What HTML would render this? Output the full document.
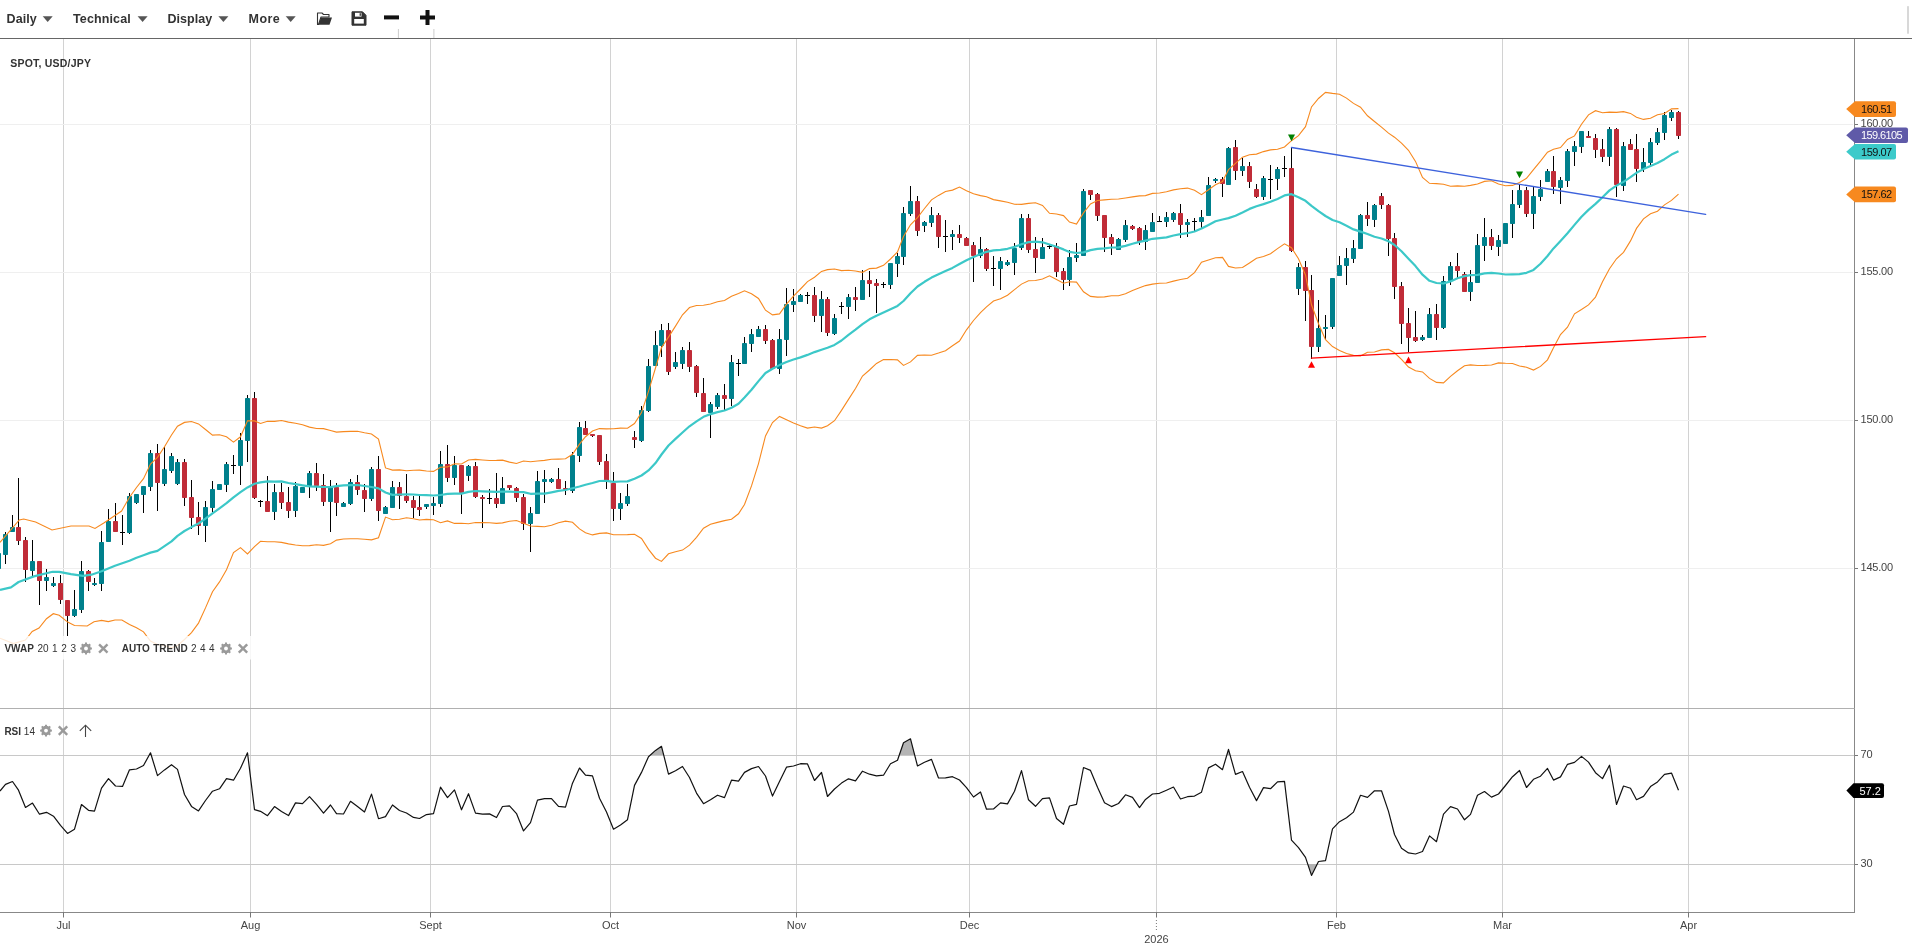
<!DOCTYPE html>
<html><head><meta charset="utf-8"><style>
html,body{margin:0;padding:0;background:#fff;width:1912px;height:945px;overflow:hidden}
svg{position:absolute;left:0;top:0;font-family:"Liberation Sans", sans-serif;will-change:transform}
</style></head><body>
<svg width="1912" height="945" viewBox="0 0 1912 945">
<line x1="63.5" y1="39" x2="63.5" y2="912" stroke="#d2d2d2" stroke-width="1"/>
<line x1="250.5" y1="39" x2="250.5" y2="912" stroke="#d2d2d2" stroke-width="1"/>
<line x1="430.5" y1="39" x2="430.5" y2="912" stroke="#d2d2d2" stroke-width="1"/>
<line x1="610.5" y1="39" x2="610.5" y2="912" stroke="#d2d2d2" stroke-width="1"/>
<line x1="796.5" y1="39" x2="796.5" y2="912" stroke="#d2d2d2" stroke-width="1"/>
<line x1="969.5" y1="39" x2="969.5" y2="912" stroke="#d2d2d2" stroke-width="1"/>
<line x1="1156.5" y1="39" x2="1156.5" y2="912" stroke="#d2d2d2" stroke-width="1"/>
<line x1="1336.5" y1="39" x2="1336.5" y2="912" stroke="#d2d2d2" stroke-width="1"/>
<line x1="1502.5" y1="39" x2="1502.5" y2="912" stroke="#d2d2d2" stroke-width="1"/>
<line x1="1688.5" y1="39" x2="1688.5" y2="912" stroke="#d2d2d2" stroke-width="1"/>
<line x1="0" y1="124.5" x2="1853" y2="124.5" stroke="#efefef" stroke-width="1"/>
<line x1="0" y1="272.5" x2="1853" y2="272.5" stroke="#efefef" stroke-width="1"/>
<line x1="0" y1="420.5" x2="1853" y2="420.5" stroke="#efefef" stroke-width="1"/>
<line x1="0" y1="568.5" x2="1853" y2="568.5" stroke="#efefef" stroke-width="1"/>
<line x1="0" y1="755.5" x2="1854" y2="755.5" stroke="#c8c8c8" stroke-width="1"/>
<line x1="0" y1="864.5" x2="1854" y2="864.5" stroke="#c8c8c8" stroke-width="1"/>
<line x1="-1.50" y1="553" x2="-1.50" y2="569" stroke="#000" stroke-width="1"/>
<line x1="5.50" y1="532" x2="5.50" y2="564" stroke="#000" stroke-width="1"/>
<line x1="12.50" y1="515" x2="12.50" y2="532" stroke="#000" stroke-width="1"/>
<line x1="18.50" y1="478" x2="18.50" y2="545" stroke="#000" stroke-width="1"/>
<line x1="25.50" y1="537" x2="25.50" y2="582" stroke="#000" stroke-width="1"/>
<line x1="32.50" y1="540" x2="32.50" y2="578" stroke="#000" stroke-width="1"/>
<line x1="39.50" y1="561" x2="39.50" y2="605" stroke="#000" stroke-width="1"/>
<line x1="46.50" y1="569" x2="46.50" y2="591" stroke="#000" stroke-width="1"/>
<line x1="53.50" y1="577" x2="53.50" y2="587" stroke="#000" stroke-width="1"/>
<line x1="60.50" y1="575" x2="60.50" y2="604" stroke="#000" stroke-width="1"/>
<line x1="67.50" y1="600" x2="67.50" y2="636" stroke="#000" stroke-width="1"/>
<line x1="74.50" y1="590" x2="74.50" y2="617" stroke="#000" stroke-width="1"/>
<line x1="81.50" y1="561" x2="81.50" y2="613" stroke="#000" stroke-width="1"/>
<line x1="88.50" y1="570" x2="88.50" y2="591" stroke="#000" stroke-width="1"/>
<line x1="94.50" y1="578" x2="94.50" y2="586" stroke="#000" stroke-width="1"/>
<line x1="101.50" y1="531" x2="101.50" y2="591" stroke="#000" stroke-width="1"/>
<line x1="108.50" y1="509" x2="108.50" y2="542" stroke="#000" stroke-width="1"/>
<line x1="115.50" y1="503" x2="115.50" y2="532" stroke="#000" stroke-width="1"/>
<line x1="122.50" y1="515" x2="122.50" y2="545" stroke="#000" stroke-width="1"/>
<line x1="129.50" y1="493" x2="129.50" y2="534" stroke="#000" stroke-width="1"/>
<line x1="136.50" y1="494" x2="136.50" y2="504" stroke="#000" stroke-width="1"/>
<line x1="143.50" y1="486" x2="143.50" y2="513" stroke="#000" stroke-width="1"/>
<line x1="150.50" y1="450" x2="150.50" y2="491" stroke="#000" stroke-width="1"/>
<line x1="157.50" y1="444" x2="157.50" y2="511" stroke="#000" stroke-width="1"/>
<line x1="164.50" y1="447" x2="164.50" y2="486" stroke="#000" stroke-width="1"/>
<line x1="171.50" y1="453" x2="171.50" y2="473" stroke="#000" stroke-width="1"/>
<line x1="177.50" y1="459" x2="177.50" y2="485" stroke="#000" stroke-width="1"/>
<line x1="184.50" y1="459" x2="184.50" y2="506" stroke="#000" stroke-width="1"/>
<line x1="191.50" y1="480" x2="191.50" y2="529" stroke="#000" stroke-width="1"/>
<line x1="198.50" y1="502" x2="198.50" y2="535" stroke="#000" stroke-width="1"/>
<line x1="205.50" y1="501" x2="205.50" y2="542" stroke="#000" stroke-width="1"/>
<line x1="212.50" y1="481" x2="212.50" y2="512" stroke="#000" stroke-width="1"/>
<line x1="219.50" y1="484" x2="219.50" y2="490" stroke="#000" stroke-width="1"/>
<line x1="226.50" y1="462" x2="226.50" y2="492" stroke="#000" stroke-width="1"/>
<line x1="233.50" y1="455" x2="233.50" y2="474" stroke="#000" stroke-width="1"/>
<line x1="240.50" y1="433" x2="240.50" y2="485" stroke="#000" stroke-width="1"/>
<line x1="247.50" y1="395" x2="247.50" y2="462" stroke="#000" stroke-width="1"/>
<line x1="254.50" y1="392" x2="254.50" y2="499" stroke="#000" stroke-width="1"/>
<line x1="260.50" y1="500" x2="260.50" y2="507" stroke="#000" stroke-width="1"/>
<line x1="267.50" y1="476" x2="267.50" y2="512" stroke="#000" stroke-width="1"/>
<line x1="274.50" y1="484" x2="274.50" y2="520" stroke="#000" stroke-width="1"/>
<line x1="281.50" y1="483" x2="281.50" y2="509" stroke="#000" stroke-width="1"/>
<line x1="288.50" y1="487" x2="288.50" y2="518" stroke="#000" stroke-width="1"/>
<line x1="295.50" y1="482" x2="295.50" y2="517" stroke="#000" stroke-width="1"/>
<line x1="302.50" y1="487" x2="302.50" y2="493" stroke="#000" stroke-width="1"/>
<line x1="309.50" y1="471" x2="309.50" y2="498" stroke="#000" stroke-width="1"/>
<line x1="316.50" y1="463" x2="316.50" y2="491" stroke="#000" stroke-width="1"/>
<line x1="323.50" y1="474" x2="323.50" y2="506" stroke="#000" stroke-width="1"/>
<line x1="330.50" y1="480" x2="330.50" y2="532" stroke="#000" stroke-width="1"/>
<line x1="336.50" y1="483" x2="336.50" y2="516" stroke="#000" stroke-width="1"/>
<line x1="343.50" y1="502" x2="343.50" y2="507" stroke="#000" stroke-width="1"/>
<line x1="350.50" y1="479" x2="350.50" y2="505" stroke="#000" stroke-width="1"/>
<line x1="357.50" y1="475" x2="357.50" y2="495" stroke="#000" stroke-width="1"/>
<line x1="364.50" y1="484" x2="364.50" y2="512" stroke="#000" stroke-width="1"/>
<line x1="371.50" y1="467" x2="371.50" y2="501" stroke="#000" stroke-width="1"/>
<line x1="378.50" y1="456" x2="378.50" y2="521" stroke="#000" stroke-width="1"/>
<line x1="385.50" y1="506" x2="385.50" y2="514" stroke="#000" stroke-width="1"/>
<line x1="392.50" y1="481" x2="392.50" y2="508" stroke="#000" stroke-width="1"/>
<line x1="399.50" y1="482" x2="399.50" y2="509" stroke="#000" stroke-width="1"/>
<line x1="406.50" y1="474" x2="406.50" y2="503" stroke="#000" stroke-width="1"/>
<line x1="413.50" y1="496" x2="413.50" y2="518" stroke="#000" stroke-width="1"/>
<line x1="419.50" y1="496" x2="419.50" y2="516" stroke="#000" stroke-width="1"/>
<line x1="426.50" y1="504" x2="426.50" y2="509" stroke="#000" stroke-width="1"/>
<line x1="433.50" y1="497" x2="433.50" y2="515" stroke="#000" stroke-width="1"/>
<line x1="440.50" y1="451" x2="440.50" y2="507" stroke="#000" stroke-width="1"/>
<line x1="447.50" y1="445" x2="447.50" y2="482" stroke="#000" stroke-width="1"/>
<line x1="454.50" y1="456" x2="454.50" y2="485" stroke="#000" stroke-width="1"/>
<line x1="461.50" y1="465" x2="461.50" y2="514" stroke="#000" stroke-width="1"/>
<line x1="468.50" y1="465" x2="468.50" y2="481" stroke="#000" stroke-width="1"/>
<line x1="475.50" y1="462" x2="475.50" y2="498" stroke="#000" stroke-width="1"/>
<line x1="482.50" y1="495" x2="482.50" y2="528" stroke="#000" stroke-width="1"/>
<line x1="489.50" y1="489" x2="489.50" y2="504" stroke="#000" stroke-width="1"/>
<line x1="496.50" y1="473" x2="496.50" y2="508" stroke="#000" stroke-width="1"/>
<line x1="502.50" y1="477" x2="502.50" y2="504" stroke="#000" stroke-width="1"/>
<line x1="509.50" y1="485" x2="509.50" y2="490" stroke="#000" stroke-width="1"/>
<line x1="516.50" y1="487" x2="516.50" y2="502" stroke="#000" stroke-width="1"/>
<line x1="523.50" y1="494" x2="523.50" y2="530" stroke="#000" stroke-width="1"/>
<line x1="530.50" y1="507" x2="530.50" y2="552" stroke="#000" stroke-width="1"/>
<line x1="537.50" y1="471" x2="537.50" y2="514" stroke="#000" stroke-width="1"/>
<line x1="544.50" y1="470" x2="544.50" y2="503" stroke="#000" stroke-width="1"/>
<line x1="551.50" y1="478" x2="551.50" y2="483" stroke="#000" stroke-width="1"/>
<line x1="558.50" y1="468" x2="558.50" y2="489" stroke="#000" stroke-width="1"/>
<line x1="565.50" y1="481" x2="565.50" y2="495" stroke="#000" stroke-width="1"/>
<line x1="572.50" y1="452" x2="572.50" y2="493" stroke="#000" stroke-width="1"/>
<line x1="579.50" y1="422" x2="579.50" y2="462" stroke="#000" stroke-width="1"/>
<line x1="585.50" y1="421" x2="585.50" y2="435" stroke="#000" stroke-width="1"/>
<line x1="592.50" y1="434" x2="592.50" y2="437" stroke="#000" stroke-width="1"/>
<line x1="599.50" y1="435" x2="599.50" y2="465" stroke="#000" stroke-width="1"/>
<line x1="606.50" y1="454" x2="606.50" y2="489" stroke="#000" stroke-width="1"/>
<line x1="613.50" y1="472" x2="613.50" y2="521" stroke="#000" stroke-width="1"/>
<line x1="620.50" y1="493" x2="620.50" y2="520" stroke="#000" stroke-width="1"/>
<line x1="627.50" y1="484" x2="627.50" y2="506" stroke="#000" stroke-width="1"/>
<line x1="634.50" y1="431" x2="634.50" y2="448" stroke="#000" stroke-width="1"/>
<line x1="641.50" y1="406" x2="641.50" y2="442" stroke="#000" stroke-width="1"/>
<line x1="648.50" y1="359" x2="648.50" y2="412" stroke="#000" stroke-width="1"/>
<line x1="655.50" y1="331" x2="655.50" y2="366" stroke="#000" stroke-width="1"/>
<line x1="661.50" y1="324" x2="661.50" y2="357" stroke="#000" stroke-width="1"/>
<line x1="668.50" y1="323" x2="668.50" y2="375" stroke="#000" stroke-width="1"/>
<line x1="675.50" y1="352" x2="675.50" y2="369" stroke="#000" stroke-width="1"/>
<line x1="682.50" y1="347" x2="682.50" y2="369" stroke="#000" stroke-width="1"/>
<line x1="689.50" y1="342" x2="689.50" y2="372" stroke="#000" stroke-width="1"/>
<line x1="696.50" y1="365" x2="696.50" y2="397" stroke="#000" stroke-width="1"/>
<line x1="703.50" y1="378" x2="703.50" y2="412" stroke="#000" stroke-width="1"/>
<line x1="710.50" y1="402" x2="710.50" y2="438" stroke="#000" stroke-width="1"/>
<line x1="717.50" y1="393" x2="717.50" y2="409" stroke="#000" stroke-width="1"/>
<line x1="724.50" y1="384" x2="724.50" y2="410" stroke="#000" stroke-width="1"/>
<line x1="731.50" y1="355" x2="731.50" y2="406" stroke="#000" stroke-width="1"/>
<line x1="738.50" y1="359" x2="738.50" y2="376" stroke="#000" stroke-width="1"/>
<line x1="744.50" y1="337" x2="744.50" y2="364" stroke="#000" stroke-width="1"/>
<line x1="751.50" y1="329" x2="751.50" y2="352" stroke="#000" stroke-width="1"/>
<line x1="758.50" y1="326" x2="758.50" y2="337" stroke="#000" stroke-width="1"/>
<line x1="765.50" y1="325" x2="765.50" y2="344" stroke="#000" stroke-width="1"/>
<line x1="772.50" y1="339" x2="772.50" y2="369" stroke="#000" stroke-width="1"/>
<line x1="779.50" y1="329" x2="779.50" y2="374" stroke="#000" stroke-width="1"/>
<line x1="786.50" y1="288" x2="786.50" y2="356" stroke="#000" stroke-width="1"/>
<line x1="793.50" y1="289" x2="793.50" y2="312" stroke="#000" stroke-width="1"/>
<line x1="800.50" y1="294" x2="800.50" y2="302" stroke="#000" stroke-width="1"/>
<line x1="807.50" y1="292" x2="807.50" y2="304" stroke="#000" stroke-width="1"/>
<line x1="814.50" y1="287" x2="814.50" y2="322" stroke="#000" stroke-width="1"/>
<line x1="821.50" y1="291" x2="821.50" y2="332" stroke="#000" stroke-width="1"/>
<line x1="827.50" y1="297" x2="827.50" y2="336" stroke="#000" stroke-width="1"/>
<line x1="834.50" y1="314" x2="834.50" y2="335" stroke="#000" stroke-width="1"/>
<line x1="841.50" y1="302" x2="841.50" y2="314" stroke="#000" stroke-width="1"/>
<line x1="848.50" y1="294" x2="848.50" y2="319" stroke="#000" stroke-width="1"/>
<line x1="855.50" y1="287" x2="855.50" y2="311" stroke="#000" stroke-width="1"/>
<line x1="862.50" y1="270" x2="862.50" y2="300" stroke="#000" stroke-width="1"/>
<line x1="869.50" y1="271" x2="869.50" y2="297" stroke="#000" stroke-width="1"/>
<line x1="876.50" y1="279" x2="876.50" y2="313" stroke="#000" stroke-width="1"/>
<line x1="883.50" y1="282" x2="883.50" y2="288" stroke="#000" stroke-width="1"/>
<line x1="890.50" y1="263" x2="890.50" y2="289" stroke="#000" stroke-width="1"/>
<line x1="897.50" y1="253" x2="897.50" y2="277" stroke="#000" stroke-width="1"/>
<line x1="903.50" y1="207" x2="903.50" y2="265" stroke="#000" stroke-width="1"/>
<line x1="910.50" y1="186" x2="910.50" y2="216" stroke="#000" stroke-width="1"/>
<line x1="917.50" y1="196" x2="917.50" y2="236" stroke="#000" stroke-width="1"/>
<line x1="924.50" y1="221" x2="924.50" y2="232" stroke="#000" stroke-width="1"/>
<line x1="931.50" y1="207" x2="931.50" y2="227" stroke="#000" stroke-width="1"/>
<line x1="938.50" y1="213" x2="938.50" y2="248" stroke="#000" stroke-width="1"/>
<line x1="945.50" y1="220" x2="945.50" y2="252" stroke="#000" stroke-width="1"/>
<line x1="952.50" y1="230" x2="952.50" y2="250" stroke="#000" stroke-width="1"/>
<line x1="959.50" y1="225" x2="959.50" y2="243" stroke="#000" stroke-width="1"/>
<line x1="966.50" y1="237" x2="966.50" y2="246" stroke="#000" stroke-width="1"/>
<line x1="973.50" y1="242" x2="973.50" y2="282" stroke="#000" stroke-width="1"/>
<line x1="980.50" y1="237" x2="980.50" y2="258" stroke="#000" stroke-width="1"/>
<line x1="986.50" y1="248" x2="986.50" y2="271" stroke="#000" stroke-width="1"/>
<line x1="993.50" y1="256" x2="993.50" y2="286" stroke="#000" stroke-width="1"/>
<line x1="1000.50" y1="257" x2="1000.50" y2="290" stroke="#000" stroke-width="1"/>
<line x1="1007.50" y1="260" x2="1007.50" y2="266" stroke="#000" stroke-width="1"/>
<line x1="1014.50" y1="243" x2="1014.50" y2="275" stroke="#000" stroke-width="1"/>
<line x1="1021.50" y1="214" x2="1021.50" y2="250" stroke="#000" stroke-width="1"/>
<line x1="1028.50" y1="214" x2="1028.50" y2="253" stroke="#000" stroke-width="1"/>
<line x1="1035.50" y1="237" x2="1035.50" y2="273" stroke="#000" stroke-width="1"/>
<line x1="1042.50" y1="238" x2="1042.50" y2="259" stroke="#000" stroke-width="1"/>
<line x1="1049.50" y1="244" x2="1049.50" y2="249" stroke="#000" stroke-width="1"/>
<line x1="1056.50" y1="243" x2="1056.50" y2="277" stroke="#000" stroke-width="1"/>
<line x1="1063.50" y1="268" x2="1063.50" y2="290" stroke="#000" stroke-width="1"/>
<line x1="1069.50" y1="250" x2="1069.50" y2="286" stroke="#000" stroke-width="1"/>
<line x1="1076.50" y1="243" x2="1076.50" y2="262" stroke="#000" stroke-width="1"/>
<line x1="1083.50" y1="189" x2="1083.50" y2="256" stroke="#000" stroke-width="1"/>
<line x1="1090.50" y1="190" x2="1090.50" y2="200" stroke="#000" stroke-width="1"/>
<line x1="1097.50" y1="193" x2="1097.50" y2="221" stroke="#000" stroke-width="1"/>
<line x1="1104.50" y1="215" x2="1104.50" y2="252" stroke="#000" stroke-width="1"/>
<line x1="1111.50" y1="234" x2="1111.50" y2="255" stroke="#000" stroke-width="1"/>
<line x1="1118.50" y1="238" x2="1118.50" y2="250" stroke="#000" stroke-width="1"/>
<line x1="1125.50" y1="220" x2="1125.50" y2="242" stroke="#000" stroke-width="1"/>
<line x1="1132.50" y1="225" x2="1132.50" y2="230" stroke="#000" stroke-width="1"/>
<line x1="1139.50" y1="227" x2="1139.50" y2="245" stroke="#000" stroke-width="1"/>
<line x1="1145.50" y1="225" x2="1145.50" y2="250" stroke="#000" stroke-width="1"/>
<line x1="1152.50" y1="213" x2="1152.50" y2="232" stroke="#000" stroke-width="1"/>
<line x1="1159.50" y1="216" x2="1159.50" y2="221" stroke="#000" stroke-width="1"/>
<line x1="1166.50" y1="212" x2="1166.50" y2="227" stroke="#000" stroke-width="1"/>
<line x1="1173.50" y1="212" x2="1173.50" y2="222" stroke="#000" stroke-width="1"/>
<line x1="1180.50" y1="204" x2="1180.50" y2="238" stroke="#000" stroke-width="1"/>
<line x1="1187.50" y1="219" x2="1187.50" y2="237" stroke="#000" stroke-width="1"/>
<line x1="1194.50" y1="218" x2="1194.50" y2="231" stroke="#000" stroke-width="1"/>
<line x1="1201.50" y1="210" x2="1201.50" y2="228" stroke="#000" stroke-width="1"/>
<line x1="1208.50" y1="177" x2="1208.50" y2="216" stroke="#000" stroke-width="1"/>
<line x1="1215.50" y1="178" x2="1215.50" y2="183" stroke="#000" stroke-width="1"/>
<line x1="1222.50" y1="177" x2="1222.50" y2="197" stroke="#000" stroke-width="1"/>
<line x1="1228.50" y1="147" x2="1228.50" y2="185" stroke="#000" stroke-width="1"/>
<line x1="1235.50" y1="140" x2="1235.50" y2="180" stroke="#000" stroke-width="1"/>
<line x1="1242.50" y1="158" x2="1242.50" y2="176" stroke="#000" stroke-width="1"/>
<line x1="1249.50" y1="162" x2="1249.50" y2="188" stroke="#000" stroke-width="1"/>
<line x1="1256.50" y1="184" x2="1256.50" y2="198" stroke="#000" stroke-width="1"/>
<line x1="1263.50" y1="176" x2="1263.50" y2="200" stroke="#000" stroke-width="1"/>
<line x1="1270.50" y1="165" x2="1270.50" y2="199" stroke="#000" stroke-width="1"/>
<line x1="1277.50" y1="167" x2="1277.50" y2="190" stroke="#000" stroke-width="1"/>
<line x1="1284.50" y1="156" x2="1284.50" y2="177" stroke="#000" stroke-width="1"/>
<line x1="1291.50" y1="147" x2="1291.50" y2="252" stroke="#000" stroke-width="1"/>
<line x1="1298.50" y1="263" x2="1298.50" y2="295" stroke="#000" stroke-width="1"/>
<line x1="1305.50" y1="261" x2="1305.50" y2="321" stroke="#000" stroke-width="1"/>
<line x1="1311.50" y1="275" x2="1311.50" y2="359" stroke="#000" stroke-width="1"/>
<line x1="1318.50" y1="300" x2="1318.50" y2="352" stroke="#000" stroke-width="1"/>
<line x1="1325.50" y1="315" x2="1325.50" y2="340" stroke="#000" stroke-width="1"/>
<line x1="1332.50" y1="278" x2="1332.50" y2="329" stroke="#000" stroke-width="1"/>
<line x1="1339.50" y1="256" x2="1339.50" y2="276" stroke="#000" stroke-width="1"/>
<line x1="1346.50" y1="248" x2="1346.50" y2="285" stroke="#000" stroke-width="1"/>
<line x1="1353.50" y1="240" x2="1353.50" y2="263" stroke="#000" stroke-width="1"/>
<line x1="1360.50" y1="214" x2="1360.50" y2="249" stroke="#000" stroke-width="1"/>
<line x1="1367.50" y1="202" x2="1367.50" y2="226" stroke="#000" stroke-width="1"/>
<line x1="1374.50" y1="204" x2="1374.50" y2="227" stroke="#000" stroke-width="1"/>
<line x1="1381.50" y1="193" x2="1381.50" y2="209" stroke="#000" stroke-width="1"/>
<line x1="1388.50" y1="204" x2="1388.50" y2="256" stroke="#000" stroke-width="1"/>
<line x1="1394.50" y1="233" x2="1394.50" y2="299" stroke="#000" stroke-width="1"/>
<line x1="1401.50" y1="282" x2="1401.50" y2="344" stroke="#000" stroke-width="1"/>
<line x1="1408.50" y1="308" x2="1408.50" y2="352" stroke="#000" stroke-width="1"/>
<line x1="1415.50" y1="311" x2="1415.50" y2="342" stroke="#000" stroke-width="1"/>
<line x1="1422.50" y1="335" x2="1422.50" y2="341" stroke="#000" stroke-width="1"/>
<line x1="1429.50" y1="308" x2="1429.50" y2="338" stroke="#000" stroke-width="1"/>
<line x1="1436.50" y1="304" x2="1436.50" y2="340" stroke="#000" stroke-width="1"/>
<line x1="1443.50" y1="276" x2="1443.50" y2="329" stroke="#000" stroke-width="1"/>
<line x1="1450.50" y1="262" x2="1450.50" y2="285" stroke="#000" stroke-width="1"/>
<line x1="1457.50" y1="253" x2="1457.50" y2="278" stroke="#000" stroke-width="1"/>
<line x1="1464.50" y1="272" x2="1464.50" y2="292" stroke="#000" stroke-width="1"/>
<line x1="1470.50" y1="270" x2="1470.50" y2="301" stroke="#000" stroke-width="1"/>
<line x1="1477.50" y1="234" x2="1477.50" y2="283" stroke="#000" stroke-width="1"/>
<line x1="1484.50" y1="218" x2="1484.50" y2="261" stroke="#000" stroke-width="1"/>
<line x1="1491.50" y1="229" x2="1491.50" y2="250" stroke="#000" stroke-width="1"/>
<line x1="1498.50" y1="235" x2="1498.50" y2="256" stroke="#000" stroke-width="1"/>
<line x1="1505.50" y1="223" x2="1505.50" y2="244" stroke="#000" stroke-width="1"/>
<line x1="1512.50" y1="190" x2="1512.50" y2="238" stroke="#000" stroke-width="1"/>
<line x1="1519.50" y1="184" x2="1519.50" y2="208" stroke="#000" stroke-width="1"/>
<line x1="1526.50" y1="187" x2="1526.50" y2="217" stroke="#000" stroke-width="1"/>
<line x1="1533.50" y1="187" x2="1533.50" y2="229" stroke="#000" stroke-width="1"/>
<line x1="1540.50" y1="180" x2="1540.50" y2="201" stroke="#000" stroke-width="1"/>
<line x1="1547.50" y1="169" x2="1547.50" y2="182" stroke="#000" stroke-width="1"/>
<line x1="1553.50" y1="156" x2="1553.50" y2="194" stroke="#000" stroke-width="1"/>
<line x1="1560.50" y1="177" x2="1560.50" y2="204" stroke="#000" stroke-width="1"/>
<line x1="1567.50" y1="149" x2="1567.50" y2="187" stroke="#000" stroke-width="1"/>
<line x1="1574.50" y1="141" x2="1574.50" y2="166" stroke="#000" stroke-width="1"/>
<line x1="1581.50" y1="131" x2="1581.50" y2="153" stroke="#000" stroke-width="1"/>
<line x1="1588.50" y1="131" x2="1588.50" y2="138" stroke="#000" stroke-width="1"/>
<line x1="1595.50" y1="134" x2="1595.50" y2="158" stroke="#000" stroke-width="1"/>
<line x1="1602.50" y1="139" x2="1602.50" y2="162" stroke="#000" stroke-width="1"/>
<line x1="1609.50" y1="127" x2="1609.50" y2="166" stroke="#000" stroke-width="1"/>
<line x1="1616.50" y1="128" x2="1616.50" y2="197" stroke="#000" stroke-width="1"/>
<line x1="1623.50" y1="142" x2="1623.50" y2="191" stroke="#000" stroke-width="1"/>
<line x1="1630.50" y1="139" x2="1630.50" y2="150" stroke="#000" stroke-width="1"/>
<line x1="1636.50" y1="134" x2="1636.50" y2="182" stroke="#000" stroke-width="1"/>
<line x1="1643.50" y1="148" x2="1643.50" y2="172" stroke="#000" stroke-width="1"/>
<line x1="1650.50" y1="138" x2="1650.50" y2="165" stroke="#000" stroke-width="1"/>
<line x1="1657.50" y1="128" x2="1657.50" y2="145" stroke="#000" stroke-width="1"/>
<line x1="1664.50" y1="112" x2="1664.50" y2="140" stroke="#000" stroke-width="1"/>
<line x1="1671.50" y1="110" x2="1671.50" y2="121" stroke="#000" stroke-width="1"/>
<line x1="1678.50" y1="111" x2="1678.50" y2="139" stroke="#000" stroke-width="1"/>
<rect x="-4.00" y="553.0" width="5" height="16.0" rx="0.7" fill="#00808c"/>
<rect x="3.00" y="534.0" width="5" height="21.0" rx="0.7" fill="#00808c"/>
<rect x="10.00" y="527.0" width="5" height="5.0" rx="0.7" fill="#00808c"/>
<rect x="16.00" y="527.0" width="5" height="14.0" rx="0.7" fill="#c02c38"/>
<rect x="23.00" y="540.0" width="5" height="30.0" rx="0.7" fill="#c02c38"/>
<rect x="30.00" y="561.0" width="5" height="10.0" rx="0.7" fill="#00808c"/>
<rect x="37.00" y="561.0" width="5" height="20.0" rx="0.7" fill="#c02c38"/>
<rect x="44.00" y="577.0" width="5" height="4.0" rx="0.7" fill="#00808c"/>
<rect x="51.00" y="583.0" width="5" height="3.0" rx="0.7" fill="#00808c"/>
<rect x="58.00" y="583.0" width="5" height="17.0" rx="0.7" fill="#c02c38"/>
<rect x="65.00" y="600.0" width="5" height="16.0" rx="0.7" fill="#c02c38"/>
<rect x="72.00" y="609.0" width="5" height="7.0" rx="0.7" fill="#00808c"/>
<rect x="79.00" y="571.0" width="5" height="39.0" rx="0.7" fill="#00808c"/>
<rect x="86.00" y="571.0" width="5" height="11.0" rx="0.7" fill="#c02c38"/>
<rect x="92.00" y="583.0" width="5" height="2.0" rx="0.7" fill="#00808c"/>
<rect x="99.00" y="542.0" width="5" height="42.0" rx="0.7" fill="#00808c"/>
<rect x="106.00" y="521.0" width="5" height="21.0" rx="0.7" fill="#00808c"/>
<rect x="113.00" y="521.0" width="5" height="11.0" rx="0.7" fill="#c02c38"/>
<rect x="120.00" y="532" width="5" height="1" fill="#000"/>
<rect x="127.00" y="496.0" width="5" height="37.0" rx="0.7" fill="#00808c"/>
<rect x="134.00" y="494.0" width="5" height="9.0" rx="0.7" fill="#00808c"/>
<rect x="141.00" y="486.0" width="5" height="9.0" rx="0.7" fill="#00808c"/>
<rect x="148.00" y="453.0" width="5" height="34.0" rx="0.7" fill="#00808c"/>
<rect x="155.00" y="453.0" width="5" height="30.0" rx="0.7" fill="#c02c38"/>
<rect x="162.00" y="469.0" width="5" height="15.0" rx="0.7" fill="#00808c"/>
<rect x="169.00" y="456.0" width="5" height="15.0" rx="0.7" fill="#00808c"/>
<rect x="175.00" y="462.0" width="5" height="22.0" rx="0.7" fill="#00808c"/>
<rect x="182.00" y="462.0" width="5" height="36.0" rx="0.7" fill="#c02c38"/>
<rect x="189.00" y="497.0" width="5" height="21.0" rx="0.7" fill="#c02c38"/>
<rect x="196.00" y="517.0" width="5" height="9.0" rx="0.7" fill="#c02c38"/>
<rect x="203.00" y="507.0" width="5" height="19.0" rx="0.7" fill="#00808c"/>
<rect x="210.00" y="489.0" width="5" height="19.0" rx="0.7" fill="#00808c"/>
<rect x="217.00" y="484.0" width="5" height="6.0" rx="0.7" fill="#00808c"/>
<rect x="224.00" y="464.0" width="5" height="21.0" rx="0.7" fill="#00808c"/>
<rect x="231.00" y="465" width="5" height="1" fill="#000"/>
<rect x="238.00" y="440.0" width="5" height="26.0" rx="0.7" fill="#00808c"/>
<rect x="245.00" y="398.0" width="5" height="43.0" rx="0.7" fill="#00808c"/>
<rect x="252.00" y="398.0" width="5" height="100.0" rx="0.7" fill="#c02c38"/>
<rect x="258.00" y="501" width="5" height="1" fill="#000"/>
<rect x="265.00" y="501.0" width="5" height="11.0" rx="0.7" fill="#c02c38"/>
<rect x="272.00" y="492.0" width="5" height="20.0" rx="0.7" fill="#00808c"/>
<rect x="279.00" y="492.0" width="5" height="11.0" rx="0.7" fill="#c02c38"/>
<rect x="286.00" y="502.0" width="5" height="9.0" rx="0.7" fill="#c02c38"/>
<rect x="293.00" y="486.0" width="5" height="25.0" rx="0.7" fill="#00808c"/>
<rect x="300.00" y="487.0" width="5" height="6.0" rx="0.7" fill="#00808c"/>
<rect x="307.00" y="473.0" width="5" height="13.0" rx="0.7" fill="#00808c"/>
<rect x="314.00" y="473.0" width="5" height="13.0" rx="0.7" fill="#c02c38"/>
<rect x="321.00" y="485.0" width="5" height="17.0" rx="0.7" fill="#c02c38"/>
<rect x="328.00" y="487.0" width="5" height="15.0" rx="0.7" fill="#00808c"/>
<rect x="334.00" y="487.0" width="5" height="16.0" rx="0.7" fill="#c02c38"/>
<rect x="341.00" y="503.0" width="5" height="4.0" rx="0.7" fill="#00808c"/>
<rect x="348.00" y="482.0" width="5" height="22.0" rx="0.7" fill="#00808c"/>
<rect x="355.00" y="482.0" width="5" height="8.0" rx="0.7" fill="#c02c38"/>
<rect x="362.00" y="490.0" width="5" height="9.0" rx="0.7" fill="#c02c38"/>
<rect x="369.00" y="469.0" width="5" height="30.0" rx="0.7" fill="#00808c"/>
<rect x="376.00" y="469.0" width="5" height="42.0" rx="0.7" fill="#c02c38"/>
<rect x="383.00" y="507.0" width="5" height="7.0" rx="0.7" fill="#00808c"/>
<rect x="390.00" y="487.0" width="5" height="21.0" rx="0.7" fill="#00808c"/>
<rect x="397.00" y="487.0" width="5" height="9.0" rx="0.7" fill="#c02c38"/>
<rect x="404.00" y="496.0" width="5" height="5.0" rx="0.7" fill="#c02c38"/>
<rect x="411.00" y="500.0" width="5" height="8.0" rx="0.7" fill="#c02c38"/>
<rect x="417.00" y="507.0" width="5" height="3.0" rx="0.7" fill="#c02c38"/>
<rect x="424.00" y="504.0" width="5" height="3.0" rx="0.7" fill="#00808c"/>
<rect x="431.00" y="503.0" width="5" height="3.0" rx="0.7" fill="#00808c"/>
<rect x="438.00" y="464.0" width="5" height="40.0" rx="0.7" fill="#00808c"/>
<rect x="445.00" y="464.0" width="5" height="14.0" rx="0.7" fill="#c02c38"/>
<rect x="452.00" y="465.0" width="5" height="13.0" rx="0.7" fill="#00808c"/>
<rect x="459.00" y="465.0" width="5" height="28.0" rx="0.7" fill="#c02c38"/>
<rect x="466.00" y="466.0" width="5" height="10.0" rx="0.7" fill="#00808c"/>
<rect x="473.00" y="466.0" width="5" height="31.0" rx="0.7" fill="#c02c38"/>
<rect x="480.00" y="497.0" width="5" height="2.0" rx="0.7" fill="#c02c38"/>
<rect x="487.00" y="498" width="5" height="1" fill="#000"/>
<rect x="494.00" y="498.0" width="5" height="6.0" rx="0.7" fill="#c02c38"/>
<rect x="500.00" y="488.0" width="5" height="16.0" rx="0.7" fill="#00808c"/>
<rect x="507.00" y="485.0" width="5" height="3.0" rx="0.7" fill="#c02c38"/>
<rect x="514.00" y="488.0" width="5" height="10.0" rx="0.7" fill="#c02c38"/>
<rect x="521.00" y="497.0" width="5" height="27.0" rx="0.7" fill="#c02c38"/>
<rect x="528.00" y="513.0" width="5" height="11.0" rx="0.7" fill="#00808c"/>
<rect x="535.00" y="481.0" width="5" height="33.0" rx="0.7" fill="#00808c"/>
<rect x="542.00" y="479.0" width="5" height="3.0" rx="0.7" fill="#00808c"/>
<rect x="549.00" y="479.0" width="5" height="3.0" rx="0.7" fill="#00808c"/>
<rect x="556.00" y="479.0" width="5" height="10.0" rx="0.7" fill="#c02c38"/>
<rect x="563.00" y="488.0" width="5" height="2.0" rx="0.7" fill="#c02c38"/>
<rect x="570.00" y="455.0" width="5" height="36.0" rx="0.7" fill="#00808c"/>
<rect x="577.00" y="427.0" width="5" height="29.0" rx="0.7" fill="#00808c"/>
<rect x="583.00" y="428.0" width="5" height="7.0" rx="0.7" fill="#c02c38"/>
<rect x="590.00" y="434.0" width="5" height="2.0" rx="0.7" fill="#c02c38"/>
<rect x="597.00" y="435.0" width="5" height="27.0" rx="0.7" fill="#c02c38"/>
<rect x="604.00" y="461.0" width="5" height="20.0" rx="0.7" fill="#c02c38"/>
<rect x="611.00" y="483.0" width="5" height="26.0" rx="0.7" fill="#c02c38"/>
<rect x="618.00" y="503.0" width="5" height="6.0" rx="0.7" fill="#00808c"/>
<rect x="625.00" y="496.0" width="5" height="8.0" rx="0.7" fill="#00808c"/>
<rect x="632.00" y="437.0" width="5" height="3.0" rx="0.7" fill="#c02c38"/>
<rect x="639.00" y="410.0" width="5" height="31.0" rx="0.7" fill="#00808c"/>
<rect x="646.00" y="366.0" width="5" height="45.0" rx="0.7" fill="#00808c"/>
<rect x="653.00" y="345.0" width="5" height="21.0" rx="0.7" fill="#00808c"/>
<rect x="659.00" y="330.0" width="5" height="16.0" rx="0.7" fill="#00808c"/>
<rect x="666.00" y="330.0" width="5" height="42.0" rx="0.7" fill="#c02c38"/>
<rect x="673.00" y="362.0" width="5" height="5.0" rx="0.7" fill="#00808c"/>
<rect x="680.00" y="350.0" width="5" height="14.0" rx="0.7" fill="#00808c"/>
<rect x="687.00" y="350.0" width="5" height="17.0" rx="0.7" fill="#c02c38"/>
<rect x="694.00" y="366.0" width="5" height="27.0" rx="0.7" fill="#c02c38"/>
<rect x="701.00" y="393.0" width="5" height="19.0" rx="0.7" fill="#c02c38"/>
<rect x="708.00" y="404.0" width="5" height="9.0" rx="0.7" fill="#00808c"/>
<rect x="715.00" y="395.0" width="5" height="12.0" rx="0.7" fill="#00808c"/>
<rect x="722.00" y="395.0" width="5" height="4.0" rx="0.7" fill="#c02c38"/>
<rect x="729.00" y="362.0" width="5" height="37.0" rx="0.7" fill="#00808c"/>
<rect x="736.00" y="363" width="5" height="1" fill="#000"/>
<rect x="742.00" y="343.0" width="5" height="21.0" rx="0.7" fill="#00808c"/>
<rect x="749.00" y="334.0" width="5" height="10.0" rx="0.7" fill="#00808c"/>
<rect x="756.00" y="329.0" width="5" height="8.0" rx="0.7" fill="#00808c"/>
<rect x="763.00" y="329.0" width="5" height="12.0" rx="0.7" fill="#c02c38"/>
<rect x="770.00" y="340.0" width="5" height="29.0" rx="0.7" fill="#c02c38"/>
<rect x="777.00" y="339.0" width="5" height="30.0" rx="0.7" fill="#00808c"/>
<rect x="784.00" y="304.0" width="5" height="36.0" rx="0.7" fill="#00808c"/>
<rect x="791.00" y="301.0" width="5" height="4.0" rx="0.7" fill="#00808c"/>
<rect x="798.00" y="295.0" width="5" height="7.0" rx="0.7" fill="#00808c"/>
<rect x="805.00" y="295" width="5" height="1" fill="#000"/>
<rect x="812.00" y="295.0" width="5" height="21.0" rx="0.7" fill="#c02c38"/>
<rect x="819.00" y="299.0" width="5" height="17.0" rx="0.7" fill="#00808c"/>
<rect x="825.00" y="299.0" width="5" height="34.0" rx="0.7" fill="#c02c38"/>
<rect x="832.00" y="318.0" width="5" height="16.0" rx="0.7" fill="#00808c"/>
<rect x="839.00" y="306" width="5" height="1" fill="#000"/>
<rect x="846.00" y="297.0" width="5" height="10.0" rx="0.7" fill="#00808c"/>
<rect x="853.00" y="297.0" width="5" height="3.0" rx="0.7" fill="#c02c38"/>
<rect x="860.00" y="280.0" width="5" height="20.0" rx="0.7" fill="#00808c"/>
<rect x="867.00" y="280.0" width="5" height="4.0" rx="0.7" fill="#c02c38"/>
<rect x="874.00" y="283.0" width="5" height="3.0" rx="0.7" fill="#c02c38"/>
<rect x="881.00" y="284" width="5" height="1" fill="#000"/>
<rect x="888.00" y="263.0" width="5" height="22.0" rx="0.7" fill="#00808c"/>
<rect x="895.00" y="256.0" width="5" height="8.0" rx="0.7" fill="#00808c"/>
<rect x="901.00" y="213.0" width="5" height="44.0" rx="0.7" fill="#00808c"/>
<rect x="908.00" y="201.0" width="5" height="13.0" rx="0.7" fill="#00808c"/>
<rect x="915.00" y="201.0" width="5" height="30.0" rx="0.7" fill="#c02c38"/>
<rect x="922.00" y="222.0" width="5" height="4.0" rx="0.7" fill="#00808c"/>
<rect x="929.00" y="215.0" width="5" height="8.0" rx="0.7" fill="#00808c"/>
<rect x="936.00" y="215.0" width="5" height="22.0" rx="0.7" fill="#c02c38"/>
<rect x="943.00" y="236" width="5" height="1" fill="#000"/>
<rect x="950.00" y="234.0" width="5" height="3.0" rx="0.7" fill="#00808c"/>
<rect x="957.00" y="234.0" width="5" height="4.0" rx="0.7" fill="#c02c38"/>
<rect x="964.00" y="238.0" width="5" height="8.0" rx="0.7" fill="#c02c38"/>
<rect x="971.00" y="245.0" width="5" height="11.0" rx="0.7" fill="#c02c38"/>
<rect x="978.00" y="249.0" width="5" height="7.0" rx="0.7" fill="#00808c"/>
<rect x="984.00" y="249.0" width="5" height="20.0" rx="0.7" fill="#c02c38"/>
<rect x="991.00" y="268" width="5" height="1" fill="#000"/>
<rect x="998.00" y="261.0" width="5" height="8.0" rx="0.7" fill="#00808c"/>
<rect x="1005.00" y="262.0" width="5" height="3.0" rx="0.7" fill="#00808c"/>
<rect x="1012.00" y="248.0" width="5" height="15.0" rx="0.7" fill="#00808c"/>
<rect x="1019.00" y="218.0" width="5" height="30.0" rx="0.7" fill="#00808c"/>
<rect x="1026.00" y="218.0" width="5" height="32.0" rx="0.7" fill="#c02c38"/>
<rect x="1033.00" y="249.0" width="5" height="9.0" rx="0.7" fill="#c02c38"/>
<rect x="1040.00" y="247.0" width="5" height="12.0" rx="0.7" fill="#00808c"/>
<rect x="1047.00" y="246" width="5" height="1" fill="#000"/>
<rect x="1054.00" y="246.0" width="5" height="26.0" rx="0.7" fill="#c02c38"/>
<rect x="1061.00" y="271.0" width="5" height="9.0" rx="0.7" fill="#c02c38"/>
<rect x="1067.00" y="257.0" width="5" height="23.0" rx="0.7" fill="#00808c"/>
<rect x="1074.00" y="255.0" width="5" height="3.0" rx="0.7" fill="#00808c"/>
<rect x="1081.00" y="191.0" width="5" height="65.0" rx="0.7" fill="#00808c"/>
<rect x="1088.00" y="190.0" width="5" height="5.0" rx="0.7" fill="#c02c38"/>
<rect x="1095.00" y="194.0" width="5" height="22.0" rx="0.7" fill="#c02c38"/>
<rect x="1102.00" y="215.0" width="5" height="23.0" rx="0.7" fill="#c02c38"/>
<rect x="1109.00" y="237.0" width="5" height="7.0" rx="0.7" fill="#c02c38"/>
<rect x="1116.00" y="239.0" width="5" height="11.0" rx="0.7" fill="#00808c"/>
<rect x="1123.00" y="225.0" width="5" height="15.0" rx="0.7" fill="#00808c"/>
<rect x="1130.00" y="226.0" width="5" height="3.0" rx="0.7" fill="#c02c38"/>
<rect x="1137.00" y="228.0" width="5" height="14.0" rx="0.7" fill="#c02c38"/>
<rect x="1143.00" y="230.0" width="5" height="12.0" rx="0.7" fill="#00808c"/>
<rect x="1150.00" y="222.0" width="5" height="10.0" rx="0.7" fill="#00808c"/>
<rect x="1157.00" y="221" width="5" height="1" fill="#000"/>
<rect x="1164.00" y="217.0" width="5" height="5.0" rx="0.7" fill="#00808c"/>
<rect x="1171.00" y="213.0" width="5" height="7.0" rx="0.7" fill="#00808c"/>
<rect x="1178.00" y="213.0" width="5" height="12.0" rx="0.7" fill="#c02c38"/>
<rect x="1185.00" y="222.0" width="5" height="3.0" rx="0.7" fill="#00808c"/>
<rect x="1192.00" y="221" width="5" height="1" fill="#000"/>
<rect x="1199.00" y="217.0" width="5" height="5.0" rx="0.7" fill="#00808c"/>
<rect x="1206.00" y="185.0" width="5" height="31.0" rx="0.7" fill="#00808c"/>
<rect x="1213.00" y="179.0" width="5" height="2.0" rx="0.7" fill="#00808c"/>
<rect x="1220.00" y="179.0" width="5" height="5.0" rx="0.7" fill="#c02c38"/>
<rect x="1226.00" y="148.0" width="5" height="37.0" rx="0.7" fill="#00808c"/>
<rect x="1233.00" y="147.0" width="5" height="24.0" rx="0.7" fill="#c02c38"/>
<rect x="1240.00" y="166.0" width="5" height="5.0" rx="0.7" fill="#00808c"/>
<rect x="1247.00" y="166.0" width="5" height="16.0" rx="0.7" fill="#c02c38"/>
<rect x="1254.00" y="189.0" width="5" height="8.0" rx="0.7" fill="#c02c38"/>
<rect x="1261.00" y="178.0" width="5" height="19.0" rx="0.7" fill="#00808c"/>
<rect x="1268.00" y="179" width="5" height="1" fill="#000"/>
<rect x="1275.00" y="169.0" width="5" height="10.0" rx="0.7" fill="#00808c"/>
<rect x="1282.00" y="168" width="5" height="1" fill="#000"/>
<rect x="1289.00" y="168.0" width="5" height="83.0" rx="0.7" fill="#c02c38"/>
<rect x="1296.00" y="267.0" width="5" height="22.0" rx="0.7" fill="#00808c"/>
<rect x="1303.00" y="267.0" width="5" height="24.0" rx="0.7" fill="#c02c38"/>
<rect x="1309.00" y="290.0" width="5" height="57.0" rx="0.7" fill="#c02c38"/>
<rect x="1316.00" y="328.0" width="5" height="19.0" rx="0.7" fill="#00808c"/>
<rect x="1323.00" y="327.0" width="5" height="2.0" rx="0.7" fill="#00808c"/>
<rect x="1330.00" y="278.0" width="5" height="49.0" rx="0.7" fill="#00808c"/>
<rect x="1337.00" y="265.0" width="5" height="11.0" rx="0.7" fill="#00808c"/>
<rect x="1344.00" y="258.0" width="5" height="8.0" rx="0.7" fill="#00808c"/>
<rect x="1351.00" y="248.0" width="5" height="11.0" rx="0.7" fill="#00808c"/>
<rect x="1358.00" y="215.0" width="5" height="34.0" rx="0.7" fill="#00808c"/>
<rect x="1365.00" y="215.0" width="5" height="4.0" rx="0.7" fill="#c02c38"/>
<rect x="1372.00" y="205.0" width="5" height="15.0" rx="0.7" fill="#00808c"/>
<rect x="1379.00" y="196.0" width="5" height="9.0" rx="0.7" fill="#c02c38"/>
<rect x="1386.00" y="205.0" width="5" height="34.0" rx="0.7" fill="#c02c38"/>
<rect x="1392.00" y="238.0" width="5" height="49.0" rx="0.7" fill="#c02c38"/>
<rect x="1399.00" y="286.0" width="5" height="38.0" rx="0.7" fill="#c02c38"/>
<rect x="1406.00" y="323.0" width="5" height="15.0" rx="0.7" fill="#c02c38"/>
<rect x="1413.00" y="337.0" width="5" height="4.0" rx="0.7" fill="#c02c38"/>
<rect x="1420.00" y="337.0" width="5" height="3.0" rx="0.7" fill="#00808c"/>
<rect x="1427.00" y="314.0" width="5" height="24.0" rx="0.7" fill="#00808c"/>
<rect x="1434.00" y="314.0" width="5" height="14.0" rx="0.7" fill="#c02c38"/>
<rect x="1441.00" y="281.0" width="5" height="47.0" rx="0.7" fill="#00808c"/>
<rect x="1448.00" y="266.0" width="5" height="15.0" rx="0.7" fill="#00808c"/>
<rect x="1455.00" y="266.0" width="5" height="5.0" rx="0.7" fill="#c02c38"/>
<rect x="1462.00" y="274.0" width="5" height="18.0" rx="0.7" fill="#c02c38"/>
<rect x="1468.00" y="282.0" width="5" height="10.0" rx="0.7" fill="#00808c"/>
<rect x="1475.00" y="245.0" width="5" height="38.0" rx="0.7" fill="#00808c"/>
<rect x="1482.00" y="237.0" width="5" height="9.0" rx="0.7" fill="#00808c"/>
<rect x="1489.00" y="237.0" width="5" height="9.0" rx="0.7" fill="#c02c38"/>
<rect x="1496.00" y="240.0" width="5" height="7.0" rx="0.7" fill="#00808c"/>
<rect x="1503.00" y="223.0" width="5" height="21.0" rx="0.7" fill="#00808c"/>
<rect x="1510.00" y="204.0" width="5" height="20.0" rx="0.7" fill="#00808c"/>
<rect x="1517.00" y="190.0" width="5" height="15.0" rx="0.7" fill="#00808c"/>
<rect x="1524.00" y="190.0" width="5" height="24.0" rx="0.7" fill="#c02c38"/>
<rect x="1531.00" y="196.0" width="5" height="18.0" rx="0.7" fill="#00808c"/>
<rect x="1538.00" y="189.0" width="5" height="8.0" rx="0.7" fill="#00808c"/>
<rect x="1545.00" y="171.0" width="5" height="11.0" rx="0.7" fill="#00808c"/>
<rect x="1551.00" y="171.0" width="5" height="16.0" rx="0.7" fill="#c02c38"/>
<rect x="1558.00" y="180.0" width="5" height="8.0" rx="0.7" fill="#00808c"/>
<rect x="1565.00" y="151.0" width="5" height="30.0" rx="0.7" fill="#00808c"/>
<rect x="1572.00" y="146.0" width="5" height="6.0" rx="0.7" fill="#00808c"/>
<rect x="1579.00" y="131.0" width="5" height="16.0" rx="0.7" fill="#00808c"/>
<rect x="1586.00" y="136.0" width="5" height="2.0" rx="0.7" fill="#c02c38"/>
<rect x="1593.00" y="138.0" width="5" height="12.0" rx="0.7" fill="#c02c38"/>
<rect x="1600.00" y="149.0" width="5" height="8.0" rx="0.7" fill="#c02c38"/>
<rect x="1607.00" y="129.0" width="5" height="28.0" rx="0.7" fill="#00808c"/>
<rect x="1614.00" y="129.0" width="5" height="56.0" rx="0.7" fill="#c02c38"/>
<rect x="1621.00" y="146.0" width="5" height="40.0" rx="0.7" fill="#00808c"/>
<rect x="1628.00" y="144.0" width="5" height="6.0" rx="0.7" fill="#c02c38"/>
<rect x="1634.00" y="149.0" width="5" height="20.0" rx="0.7" fill="#c02c38"/>
<rect x="1641.00" y="162.0" width="5" height="7.0" rx="0.7" fill="#00808c"/>
<rect x="1648.00" y="142.0" width="5" height="21.0" rx="0.7" fill="#00808c"/>
<rect x="1655.00" y="132.0" width="5" height="11.0" rx="0.7" fill="#00808c"/>
<rect x="1662.00" y="115.0" width="5" height="18.0" rx="0.7" fill="#00808c"/>
<rect x="1669.00" y="112.0" width="5" height="6.0" rx="0.7" fill="#00808c"/>
<rect x="1676.00" y="112.0" width="5" height="24.0" rx="0.7" fill="#c02c38"/>
<path d="M0.0,542.4 L19.3,520.0 L23.7,519.0 L35.6,522.0 L52.0,530.0 L71.0,526.0 L89.0,526.0 L95.0,528.4 L103.8,523.0 L121.6,511.0 L129.5,497.2 L136.5,487.5 L143.5,478.7 L150.5,464.1 L157.5,457.3 L164.5,446.8 L171.5,435.0 L177.5,426.2 L184.5,422.4 L191.5,421.5 L198.5,423.9 L205.5,429.5 L212.5,435.1 L219.5,434.8 L226.5,436.7 L233.5,442.1 L240.5,436.8 L247.5,420.8 L254.5,420.9 L260.5,423.5 L267.5,421.2 L274.5,421.4 L281.5,420.5 L288.5,422.1 L295.5,423.2 L302.5,424.8 L309.5,427.1 L316.5,428.5 L323.5,428.6 L330.5,430.5 L336.5,432.1 L343.5,431.6 L350.5,431.4 L357.5,431.2 L364.5,432.8 L371.5,434.0 L378.5,439.1 L385.5,467.9 L392.5,470.1 L399.5,469.9 L406.5,470.8 L413.5,470.2 L419.5,470.1 L426.5,471.0 L433.5,471.4 L440.5,467.3 L447.5,466.9 L454.5,463.8 L461.5,464.0 L468.5,460.0 L475.5,459.4 L482.5,460.0 L489.5,460.5 L496.5,460.4 L502.5,460.1 L509.5,462.1 L516.5,463.5 L523.5,461.0 L530.5,461.7 L537.5,461.0 L544.5,460.4 L551.5,459.3 L558.5,459.1 L565.5,458.8 L572.5,454.3 L579.5,444.1 L585.5,436.7 L592.5,431.0 L599.5,428.6 L606.5,428.9 L613.5,428.8 L620.5,428.1 L627.5,428.2 L634.5,423.5 L641.5,412.6 L648.5,391.3 L655.5,368.0 L661.5,347.6 L668.5,337.1 L675.5,326.1 L682.5,314.8 L689.5,307.5 L696.5,305.5 L703.5,305.3 L710.5,304.0 L717.5,301.8 L724.5,300.5 L731.5,296.2 L738.5,293.5 L744.5,290.8 L751.5,293.7 L758.5,298.5 L765.5,310.2 L772.5,314.9 L779.5,313.9 L786.5,304.2 L793.5,296.2 L800.5,289.0 L807.5,281.6 L814.5,277.2 L821.5,271.4 L827.5,269.6 L834.5,269.0 L841.5,270.6 L848.5,270.3 L855.5,271.0 L862.5,272.3 L869.5,268.6 L876.5,268.1 L883.5,265.3 L890.5,259.0 L897.5,251.9 L903.5,236.5 L910.5,224.8 L917.5,217.7 L924.5,208.5 L931.5,199.9 L938.5,195.4 L945.5,191.5 L952.5,190.1 L959.5,187.1 L966.5,190.7 L973.5,193.8 L980.5,195.6 L986.5,196.7 L993.5,199.6 L1000.5,200.9 L1007.5,202.3 L1014.5,204.3 L1021.5,204.4 L1028.5,203.4 L1035.5,202.8 L1042.5,205.5 L1049.5,213.3 L1056.5,214.0 L1063.5,215.6 L1069.5,222.1 L1076.5,224.0 L1083.5,212.9 L1090.5,203.9 L1097.5,200.5 L1104.5,199.9 L1111.5,199.2 L1118.5,199.0 L1125.5,198.0 L1132.5,196.9 L1139.5,195.9 L1145.5,195.6 L1152.5,193.4 L1159.5,193.0 L1166.5,191.8 L1173.5,189.9 L1180.5,188.8 L1187.5,188.1 L1194.5,190.3 L1201.5,194.7 L1208.5,189.8 L1215.5,184.7 L1222.5,181.6 L1228.5,169.7 L1235.5,163.4 L1242.5,157.2 L1249.5,154.8 L1256.5,154.1 L1263.5,151.6 L1270.5,149.9 L1277.5,149.2 L1284.5,146.9 L1291.5,140.7 L1298.5,135.7 L1305.5,126.7 L1311.5,106.9 L1318.5,98.5 L1325.5,92.4 L1332.5,93.4 L1339.5,94.2 L1346.5,98.1 L1353.5,103.4 L1360.5,107.2 L1367.5,115.8 L1374.5,121.5 L1381.5,127.1 L1388.5,133.1 L1394.5,137.2 L1401.5,143.2 L1408.5,150.3 L1415.5,161.4 L1422.5,177.5 L1429.5,183.3 L1436.5,183.6 L1443.5,184.2 L1450.5,186.3 L1457.5,185.9 L1464.5,186.3 L1470.5,185.4 L1477.5,184.0 L1484.5,181.4 L1491.5,180.7 L1498.5,184.1 L1505.5,185.7 L1512.5,185.4 L1519.5,182.4 L1526.5,178.3 L1533.5,169.6 L1540.5,161.1 L1547.5,152.2 L1553.5,149.2 L1560.5,147.5 L1567.5,139.4 L1574.5,135.9 L1581.5,124.2 L1588.5,114.9 L1595.5,110.7 L1602.5,112.8 L1609.5,112.1 L1616.5,112.4 L1623.5,111.6 L1630.5,113.4 L1636.5,117.2 L1643.5,119.4 L1650.5,118.3 L1657.5,114.8 L1664.5,113.5 L1671.5,108.9 L1678.5,108.6" fill="none" stroke="#f7891f" stroke-width="1.1"/>
<path d="M0.0,638.2 L13.5,643.6 L25.4,640.0 L32.2,631.4 L39.0,628.0 L46.5,618.7 L53.3,613.7 L59.2,615.3 L67.7,622.1 L74.5,625.5 L87.2,626.0 L94.0,621.8 L101.6,620.4 L108.3,621.6 L115.0,620.0 L121.9,620.0 L129.5,624.4 L136.5,627.8 L143.5,631.8 L150.5,641.1 L157.5,644.5 L164.5,645.6 L171.5,647.8 L177.5,645.5 L184.5,639.5 L191.5,632.6 L198.5,623.1 L205.5,607.9 L212.5,591.7 L219.5,581.9 L226.5,569.7 L233.5,552.6 L240.5,547.6 L247.5,553.9 L254.5,546.6 L260.5,541.3 L267.5,541.7 L274.5,541.7 L281.5,542.4 L288.5,543.9 L295.5,545.0 L302.5,545.8 L309.5,545.6 L316.5,544.8 L323.5,545.4 L330.5,543.7 L336.5,540.1 L343.5,539.0 L350.5,538.7 L357.5,538.7 L364.5,539.2 L371.5,539.9 L378.5,537.8 L385.5,517.1 L392.5,519.8 L399.5,519.2 L406.5,517.8 L413.5,518.8 L419.5,520.0 L426.5,519.4 L433.5,519.7 L440.5,522.7 L447.5,520.9 L454.5,523.4 L461.5,523.2 L468.5,523.8 L475.5,522.5 L482.5,522.6 L489.5,522.7 L496.5,523.4 L502.5,522.9 L509.5,521.2 L516.5,520.5 L523.5,523.2 L530.5,526.0 L537.5,526.4 L544.5,526.8 L551.5,525.2 L558.5,522.7 L565.5,521.1 L572.5,522.3 L579.5,528.9 L585.5,532.7 L592.5,534.9 L599.5,533.4 L606.5,532.9 L613.5,534.8 L620.5,534.8 L627.5,534.6 L634.5,534.2 L641.5,538.5 L648.5,549.4 L655.5,558.2 L661.5,561.4 L668.5,553.8 L675.5,551.7 L682.5,550.1 L689.5,545.1 L696.5,537.3 L703.5,528.2 L710.5,524.3 L717.5,522.4 L724.5,520.6 L731.5,519.3 L738.5,513.8 L744.5,504.5 L751.5,485.9 L758.5,463.6 L765.5,435.9 L772.5,422.6 L779.5,416.4 L786.5,419.7 L793.5,422.9 L800.5,425.8 L807.5,428.1 L814.5,427.0 L821.5,428.1 L827.5,425.8 L834.5,420.7 L841.5,410.4 L848.5,399.4 L855.5,388.5 L862.5,376.0 L869.5,370.0 L876.5,363.4 L883.5,359.6 L890.5,359.5 L897.5,359.9 L903.5,365.4 L910.5,361.9 L917.5,355.4 L924.5,355.0 L931.5,355.3 L938.5,353.1 L945.5,350.7 L952.5,345.7 L959.5,341.0 L966.5,329.8 L973.5,320.5 L980.5,312.6 L986.5,306.9 L993.5,301.1 L1000.5,298.8 L1007.5,295.2 L1014.5,289.6 L1021.5,284.1 L1028.5,280.8 L1035.5,280.5 L1042.5,279.0 L1049.5,275.8 L1056.5,279.5 L1063.5,283.2 L1069.5,281.8 L1076.5,282.1 L1083.5,291.8 L1090.5,296.4 L1097.5,297.1 L1104.5,296.9 L1111.5,295.8 L1118.5,295.7 L1125.5,293.8 L1132.5,290.6 L1139.5,287.8 L1145.5,285.6 L1152.5,284.1 L1159.5,283.2 L1166.5,283.0 L1173.5,281.1 L1180.5,279.5 L1187.5,278.3 L1194.5,272.6 L1201.5,262.2 L1208.5,260.0 L1215.5,257.8 L1222.5,257.4 L1228.5,266.4 L1235.5,268.0 L1242.5,267.5 L1249.5,263.0 L1256.5,258.3 L1263.5,256.5 L1270.5,253.7 L1277.5,248.6 L1284.5,243.8 L1291.5,247.7 L1298.5,258.8 L1305.5,275.0 L1311.5,304.8 L1318.5,323.7 L1325.5,339.7 L1332.5,346.6 L1339.5,350.4 L1346.5,353.5 L1353.5,355.4 L1360.5,356.0 L1367.5,352.2 L1374.5,352.0 L1381.5,349.9 L1388.5,349.4 L1394.5,352.8 L1401.5,359.4 L1408.5,367.1 L1415.5,370.8 L1422.5,371.9 L1429.5,378.4 L1436.5,382.4 L1443.5,382.9 L1450.5,376.4 L1457.5,370.7 L1464.5,365.8 L1470.5,364.9 L1477.5,365.5 L1484.5,365.4 L1491.5,365.0 L1498.5,362.9 L1505.5,363.3 L1512.5,363.5 L1519.5,366.0 L1526.5,367.2 L1533.5,370.1 L1540.5,366.4 L1547.5,359.8 L1553.5,347.7 L1560.5,334.5 L1567.5,327.2 L1574.5,313.8 L1581.5,309.5 L1588.5,304.9 L1595.5,297.1 L1602.5,281.8 L1609.5,268.7 L1616.5,258.8 L1623.5,252.3 L1630.5,240.9 L1636.5,228.4 L1643.5,218.9 L1650.5,213.7 L1657.5,211.2 L1664.5,204.9 L1671.5,200.4 L1678.5,194.1" fill="none" stroke="#f7891f" stroke-width="1.1"/>
<path d="M0.0,590.0 L11.0,587.4 L18.6,582.0 L33.9,576.4 L52.5,571.8 L59.2,571.8 L71.0,574.2 L83.0,575.9 L91.4,574.7 L101.6,571.3 L115.0,565.7 L129.5,560.8 L136.5,557.7 L143.5,555.2 L150.5,552.6 L157.5,550.9 L164.5,546.2 L171.5,541.4 L177.5,535.9 L184.5,531.0 L191.5,527.1 L198.5,523.5 L205.5,518.7 L212.5,513.4 L219.5,508.4 L226.5,503.2 L233.5,497.3 L240.5,492.2 L247.5,487.4 L254.5,483.8 L260.5,482.4 L267.5,481.4 L274.5,481.6 L281.5,481.4 L288.5,483.0 L295.5,484.1 L302.5,485.3 L309.5,486.4 L316.5,486.6 L323.5,487.0 L330.5,487.1 L336.5,486.1 L343.5,485.3 L350.5,485.1 L357.5,485.0 L364.5,486.0 L371.5,487.0 L378.5,488.4 L385.5,492.5 L392.5,494.9 L399.5,494.5 L406.5,494.3 L413.5,494.5 L419.5,495.0 L426.5,495.2 L433.5,495.5 L440.5,495.0 L447.5,493.9 L454.5,493.6 L461.5,493.6 L468.5,491.9 L475.5,491.0 L482.5,491.3 L489.5,491.6 L496.5,491.9 L502.5,491.5 L509.5,491.7 L516.5,492.0 L523.5,492.1 L530.5,493.8 L537.5,493.7 L544.5,493.6 L551.5,492.3 L558.5,490.9 L565.5,490.0 L572.5,488.3 L579.5,486.5 L585.5,484.7 L592.5,483.0 L599.5,481.0 L606.5,480.9 L613.5,481.8 L620.5,481.5 L627.5,481.4 L634.5,478.8 L641.5,475.5 L648.5,470.4 L655.5,463.1 L661.5,454.5 L668.5,445.5 L675.5,438.9 L682.5,432.5 L689.5,426.3 L696.5,421.4 L703.5,416.8 L710.5,414.1 L717.5,412.1 L724.5,410.5 L731.5,407.8 L738.5,403.7 L744.5,397.6 L751.5,389.8 L758.5,381.1 L765.5,373.0 L772.5,368.8 L779.5,365.1 L786.5,362.0 L793.5,359.5 L800.5,357.4 L807.5,354.9 L814.5,352.1 L821.5,349.7 L827.5,347.7 L834.5,344.9 L841.5,340.5 L848.5,334.8 L855.5,329.7 L862.5,324.1 L869.5,319.3 L876.5,315.7 L883.5,312.5 L890.5,309.2 L897.5,305.9 L903.5,301.0 L910.5,293.3 L917.5,286.5 L924.5,281.8 L931.5,277.6 L938.5,274.2 L945.5,271.1 L952.5,267.9 L959.5,264.0 L966.5,260.3 L973.5,257.1 L980.5,254.1 L986.5,251.8 L993.5,250.4 L1000.5,249.8 L1007.5,248.8 L1014.5,246.9 L1021.5,244.3 L1028.5,242.1 L1035.5,241.6 L1042.5,242.3 L1049.5,244.5 L1056.5,246.8 L1063.5,249.4 L1069.5,251.9 L1076.5,253.0 L1083.5,252.4 L1090.5,250.1 L1097.5,248.8 L1104.5,248.4 L1111.5,247.5 L1118.5,247.4 L1125.5,245.9 L1132.5,243.8 L1139.5,241.9 L1145.5,240.6 L1152.5,238.8 L1159.5,238.1 L1166.5,237.4 L1173.5,235.5 L1180.5,234.2 L1187.5,233.2 L1194.5,231.5 L1201.5,228.5 L1208.5,224.9 L1215.5,221.3 L1222.5,219.5 L1228.5,218.1 L1235.5,215.7 L1242.5,212.4 L1249.5,208.9 L1256.5,206.2 L1263.5,204.1 L1270.5,201.8 L1277.5,198.9 L1284.5,195.4 L1291.5,194.2 L1298.5,197.2 L1305.5,200.8 L1311.5,205.8 L1318.5,211.1 L1325.5,216.0 L1332.5,220.0 L1339.5,222.3 L1346.5,225.8 L1353.5,229.4 L1360.5,231.6 L1367.5,234.0 L1374.5,236.8 L1381.5,238.5 L1388.5,241.2 L1394.5,245.0 L1401.5,251.3 L1408.5,258.7 L1415.5,266.1 L1422.5,274.7 L1429.5,280.8 L1436.5,283.0 L1443.5,283.5 L1450.5,281.4 L1457.5,278.3 L1464.5,276.1 L1470.5,275.2 L1477.5,274.8 L1484.5,273.4 L1491.5,272.8 L1498.5,273.5 L1505.5,274.5 L1512.5,274.4 L1519.5,274.2 L1526.5,272.8 L1533.5,269.9 L1540.5,263.7 L1547.5,256.0 L1553.5,248.4 L1560.5,241.0 L1567.5,233.3 L1574.5,224.9 L1581.5,216.8 L1588.5,209.9 L1595.5,203.9 L1602.5,197.3 L1609.5,190.4 L1616.5,185.6 L1623.5,181.9 L1630.5,177.2 L1636.5,172.8 L1643.5,169.1 L1650.5,166.0 L1657.5,163.0 L1664.5,159.2 L1671.5,154.6 L1678.5,151.3" fill="none" stroke="#3cc8c8" stroke-width="2.2" stroke-linejoin="round"/>
<line x1="1291.5" y1="147.5" x2="1705.6" y2="214.4" stroke="#3d62dc" stroke-width="1.4" stroke-linecap="round"/>
<line x1="1311.5" y1="358.1" x2="1705.6" y2="336.6" stroke="#ff0000" stroke-width="1.4" stroke-linecap="round"/>
<path d="M1288.0,134.6 L1295.0,134.6 L1291.5,141.2 Z" fill="#008000"/>
<path d="M1516.0,171.6 L1523.0,171.6 L1519.5,178.2 Z" fill="#008000"/>
<path d="M1308.0,367.8 L1315.0,367.8 L1311.5,361.2 Z" fill="#ff0000"/>
<path d="M1405.0,363.2 L1412.0,363.2 L1408.5,356.6 Z" fill="#ff0000"/>
<path d="M149.3,755.0 L150.5,752.8 L151.2,755.0 Z" fill="#b4b4b4"/>
<path d="M246.5,755.0 L247.5,752.8 L247.8,755.0 Z" fill="#b4b4b4"/>
<path d="M650.4,755.0 L655.5,750.4 L661.5,746.3 L663.7,755.0 Z" fill="#b4b4b4"/>
<path d="M899.3,755.0 L903.5,742.8 L910.5,738.8 L914.7,755.0 Z" fill="#b4b4b4"/>
<path d="M1226.8,755.0 L1228.5,749.4 L1230.1,755.0 Z" fill="#b4b4b4"/>
<path d="M1307.7,864.0 L1311.5,875.4 L1317.2,864.0 Z" fill="#b4b4b4"/>
<path d="M0.0,791.0 L5.5,784.4 L12.5,781.5 L18.5,790.2 L25.5,807.5 L32.5,803.1 L39.5,814.2 L46.5,812.3 L53.5,816.2 L60.5,825.4 L67.5,833.4 L74.5,829.2 L81.5,804.5 L88.5,810.3 L94.5,811.2 L101.5,788.2 L108.5,778.6 L115.5,786.0 L122.5,786.4 L129.5,769.8 L136.5,769.0 L143.5,765.5 L150.5,752.8 L157.5,775.6 L164.5,769.9 L171.5,764.7 L177.5,769.4 L184.5,794.5 L191.5,806.4 L198.5,810.9 L205.5,800.5 L212.5,791.2 L219.5,788.8 L226.5,778.7 L233.5,780.2 L240.5,768.3 L247.5,752.8 L254.5,809.6 L260.5,811.3 L267.5,815.7 L274.5,806.6 L281.5,811.6 L288.5,815.6 L295.5,802.9 L302.5,803.7 L309.5,796.6 L316.5,804.3 L323.5,813.1 L330.5,805.0 L336.5,813.7 L343.5,814.0 L350.5,801.3 L357.5,806.6 L364.5,812.0 L371.5,794.1 L378.5,818.7 L385.5,816.6 L392.5,805.0 L399.5,810.5 L406.5,813.0 L413.5,817.4 L419.5,818.5 L426.5,814.6 L433.5,813.6 L440.5,787.1 L447.5,797.6 L454.5,789.9 L461.5,809.8 L468.5,793.7 L475.5,813.1 L482.5,814.1 L489.5,813.9 L496.5,817.5 L502.5,806.5 L509.5,805.9 L516.5,813.6 L523.5,830.9 L530.5,822.6 L537.5,800.1 L544.5,798.7 L551.5,798.7 L558.5,806.4 L565.5,807.1 L572.5,783.2 L579.5,768.0 L585.5,775.1 L592.5,775.9 L599.5,798.2 L606.5,812.1 L613.5,829.2 L620.5,825.1 L627.5,819.7 L634.5,785.4 L641.5,772.4 L648.5,756.7 L655.5,750.4 L661.5,746.3 L668.5,774.1 L675.5,770.7 L682.5,766.5 L689.5,777.5 L696.5,793.1 L703.5,803.7 L710.5,799.7 L717.5,795.2 L724.5,797.6 L731.5,780.2 L738.5,781.2 L744.5,772.4 L751.5,768.6 L758.5,766.5 L765.5,776.0 L772.5,796.1 L779.5,781.4 L786.5,767.2 L793.5,766.0 L800.5,763.7 L807.5,763.9 L814.5,780.5 L821.5,772.5 L827.5,796.5 L834.5,789.0 L841.5,783.1 L848.5,778.8 L855.5,780.8 L862.5,771.2 L869.5,774.2 L876.5,775.9 L883.5,775.2 L890.5,763.8 L897.5,760.3 L903.5,742.8 L910.5,738.8 L917.5,766.0 L924.5,762.3 L931.5,759.4 L938.5,778.0 L945.5,777.8 L952.5,776.7 L959.5,780.0 L966.5,787.6 L973.5,797.0 L980.5,792.0 L986.5,809.2 L993.5,809.0 L1000.5,802.9 L1007.5,803.9 L1014.5,791.2 L1021.5,770.6 L1028.5,799.8 L1035.5,806.3 L1042.5,798.6 L1049.5,797.9 L1056.5,818.5 L1063.5,824.3 L1069.5,806.0 L1076.5,804.3 L1083.5,767.5 L1090.5,770.4 L1097.5,787.3 L1104.5,802.7 L1111.5,806.6 L1118.5,803.5 L1125.5,794.8 L1132.5,797.4 L1139.5,807.6 L1145.5,799.4 L1152.5,794.0 L1159.5,793.3 L1166.5,790.2 L1173.5,787.0 L1180.5,799.0 L1187.5,796.7 L1194.5,796.1 L1201.5,792.2 L1208.5,767.9 L1215.5,764.2 L1222.5,769.7 L1228.5,749.4 L1235.5,774.4 L1242.5,771.5 L1249.5,787.3 L1256.5,800.6 L1263.5,787.6 L1270.5,788.7 L1277.5,781.9 L1284.5,781.4 L1291.5,840.2 L1298.5,847.7 L1305.5,857.4 L1311.5,875.4 L1318.5,861.5 L1325.5,860.6 L1332.5,828.8 L1339.5,821.7 L1346.5,817.8 L1353.5,812.1 L1360.5,795.3 L1367.5,797.4 L1374.5,790.8 L1381.5,790.8 L1388.5,811.4 L1394.5,834.5 L1401.5,848.3 L1408.5,852.9 L1415.5,854.0 L1422.5,851.5 L1429.5,835.9 L1436.5,841.7 L1443.5,814.2 L1450.5,806.6 L1457.5,809.0 L1464.5,819.8 L1470.5,814.4 L1477.5,795.2 L1484.5,791.5 L1491.5,797.1 L1498.5,794.0 L1505.5,785.5 L1512.5,776.7 L1519.5,770.5 L1526.5,787.5 L1533.5,779.3 L1540.5,776.2 L1547.5,768.4 L1553.5,780.1 L1560.5,776.9 L1567.5,764.3 L1574.5,762.4 L1581.5,756.4 L1588.5,762.1 L1595.5,772.7 L1602.5,778.6 L1609.5,765.2 L1616.5,804.5 L1623.5,786.0 L1630.5,788.3 L1636.5,799.7 L1643.5,796.4 L1650.5,786.6 L1657.5,781.9 L1664.5,774.4 L1671.5,773.1 L1678.5,790.3" fill="none" stroke="#111" stroke-width="1.2" stroke-linejoin="round"/>
<rect x="0" y="636" width="251" height="23.5" fill="#fff" fill-opacity="0.82"/>
<text x="4.4" y="652.2" font-size="10" fill="#333" word-spacing="0.8"><tspan font-weight="bold">VWAP</tspan> 20 1 2 3</text>
<g transform="translate(86,648.5)"><circle r="3.5" fill="none" stroke="#9a9a9a" stroke-width="2.6"/><g stroke="#9a9a9a" stroke-width="2"><line x1="0" y1="-5.9" x2="0" y2="5.9"/><line x1="-5.9" y1="0" x2="5.9" y2="0"/><line x1="-4.2" y1="-4.2" x2="4.2" y2="4.2"/><line x1="-4.2" y1="4.2" x2="4.2" y2="-4.2"/></g><circle r="1.9" fill="#fff"/></g>
<g transform="translate(103.3,648.5)" stroke="#9a9a9a" stroke-width="2.4"><line x1="-4.2" y1="-4.2" x2="4.2" y2="4.2"/><line x1="-4.2" y1="4.2" x2="4.2" y2="-4.2"/></g>
<text x="121.7" y="652.2" font-size="10" fill="#333" word-spacing="0.6"><tspan font-weight="bold">AUTO TREND</tspan> 2 4 4</text>
<g transform="translate(226,648.5)"><circle r="3.5" fill="none" stroke="#9a9a9a" stroke-width="2.6"/><g stroke="#9a9a9a" stroke-width="2"><line x1="0" y1="-5.9" x2="0" y2="5.9"/><line x1="-5.9" y1="0" x2="5.9" y2="0"/><line x1="-4.2" y1="-4.2" x2="4.2" y2="4.2"/><line x1="-4.2" y1="4.2" x2="4.2" y2="-4.2"/></g><circle r="1.9" fill="#fff"/></g>
<g transform="translate(243,648.5)" stroke="#9a9a9a" stroke-width="2.4"><line x1="-4.2" y1="-4.2" x2="4.2" y2="4.2"/><line x1="-4.2" y1="4.2" x2="4.2" y2="-4.2"/></g>
<text x="4.4" y="734.5" font-size="10" fill="#333"><tspan font-weight="bold">RSI</tspan> 14</text>
<g transform="translate(46,730.6)"><circle r="3.5" fill="none" stroke="#9a9a9a" stroke-width="2.6"/><g stroke="#9a9a9a" stroke-width="2"><line x1="0" y1="-5.9" x2="0" y2="5.9"/><line x1="-5.9" y1="0" x2="5.9" y2="0"/><line x1="-4.2" y1="-4.2" x2="4.2" y2="4.2"/><line x1="-4.2" y1="4.2" x2="4.2" y2="-4.2"/></g><circle r="1.9" fill="#fff"/></g>
<g transform="translate(63,730.6)" stroke="#9a9a9a" stroke-width="2.4"><line x1="-4.2" y1="-4.2" x2="4.2" y2="4.2"/><line x1="-4.2" y1="4.2" x2="4.2" y2="-4.2"/></g>
<g stroke="#444" stroke-width="1.1" fill="none"><line x1="85.5" y1="725" x2="85.5" y2="737"/><polyline points="79.8,730.8 85.5,725.2 91.2,730.8"/></g>
<line x1="1854.5" y1="39" x2="1854.5" y2="912.5" stroke="#888" stroke-width="1"/>
<line x1="0" y1="912.5" x2="1855" y2="912.5" stroke="#888" stroke-width="1"/>
<line x1="0" y1="708.5" x2="1854.5" y2="708.5" stroke="#b0b0b0" stroke-width="1"/>
<line x1="1855" y1="124.5" x2="1858" y2="124.5" stroke="#777"/>
<text x="1860.5" y="127.3" fill="#444" font-size="11" textLength="32.5">160.00</text>
<line x1="1855" y1="272.5" x2="1858" y2="272.5" stroke="#777"/>
<text x="1860.5" y="275.3" fill="#444" font-size="11" textLength="32.5">155.00</text>
<line x1="1855" y1="420.5" x2="1858" y2="420.5" stroke="#777"/>
<text x="1860.5" y="423.3" fill="#444" font-size="11" textLength="32.5">150.00</text>
<line x1="1855" y1="568.5" x2="1858" y2="568.5" stroke="#777"/>
<text x="1860.5" y="571.3" fill="#444" font-size="11" textLength="32.5">145.00</text>
<line x1="1855" y1="755.5" x2="1858" y2="755.5" stroke="#777"/>
<text x="1860.5" y="758.3" fill="#444" font-size="11">70</text>
<line x1="1855" y1="864.5" x2="1858" y2="864.5" stroke="#777"/>
<text x="1860.5" y="867.3" fill="#444" font-size="11">30</text>
<line x1="63.5" y1="912" x2="63.5" y2="917.5" stroke="#777"/>
<text x="63.5" y="928.8" fill="#444" font-size="11" text-anchor="middle">Jul</text>
<line x1="250.5" y1="912" x2="250.5" y2="917.5" stroke="#777"/>
<text x="250.5" y="928.8" fill="#444" font-size="11" text-anchor="middle">Aug</text>
<line x1="430.5" y1="912" x2="430.5" y2="917.5" stroke="#777"/>
<text x="430.5" y="928.8" fill="#444" font-size="11" text-anchor="middle">Sept</text>
<line x1="610.5" y1="912" x2="610.5" y2="917.5" stroke="#777"/>
<text x="610.5" y="928.8" fill="#444" font-size="11" text-anchor="middle">Oct</text>
<line x1="796.5" y1="912" x2="796.5" y2="917.5" stroke="#777"/>
<text x="796.5" y="928.8" fill="#444" font-size="11" text-anchor="middle">Nov</text>
<line x1="969.5" y1="912" x2="969.5" y2="917.5" stroke="#777"/>
<text x="969.5" y="928.8" fill="#444" font-size="11" text-anchor="middle">Dec</text>
<line x1="1156.5" y1="912" x2="1156.5" y2="917.5" stroke="#777"/>
<line x1="1336.5" y1="912" x2="1336.5" y2="917.5" stroke="#777"/>
<text x="1336.5" y="928.8" fill="#444" font-size="11" text-anchor="middle">Feb</text>
<line x1="1502.5" y1="912" x2="1502.5" y2="917.5" stroke="#777"/>
<text x="1502.5" y="928.8" fill="#444" font-size="11" text-anchor="middle">Mar</text>
<line x1="1688.5" y1="912" x2="1688.5" y2="917.5" stroke="#777"/>
<text x="1688.5" y="928.8" fill="#444" font-size="11" text-anchor="middle">Apr</text>
<line x1="1156.4" y1="920" x2="1156.4" y2="931" stroke="#777" stroke-dasharray="1,2"/>
<text x="1156.4" y="942.8" fill="#444" font-size="11" text-anchor="middle">2026</text>
<path d="M1846.2,109.1 L1855,101.3 L1894,101.3 Q1896,101.3 1896,103.3 L1896,114.89999999999999 Q1896,116.89999999999999 1894,116.89999999999999 L1855,116.89999999999999 Z" fill="#f7891f"/><text x="1861" y="113.0" fill="#111" font-size="11" textLength="31.2">160.51</text>
<path d="M1846.2,194.4 L1855,186.6 L1894,186.6 Q1896,186.6 1896,188.6 L1896,200.20000000000002 Q1896,202.20000000000002 1894,202.20000000000002 L1855,202.20000000000002 Z" fill="#f7891f"/><text x="1861" y="198.3" fill="#111" font-size="11" textLength="31.2">157.62</text>
<path d="M1846.2,151.8 L1855,144.0 L1894,144.0 Q1896,144.0 1896,146.0 L1896,157.60000000000002 Q1896,159.60000000000002 1894,159.60000000000002 L1855,159.60000000000002 Z" fill="#3ccaca"/><text x="1861" y="155.70000000000002" fill="#111" font-size="11" textLength="31.2">159.07</text>
<path d="M1846.2,135.3 L1855,127.50000000000001 L1906,127.50000000000001 Q1908,127.50000000000001 1908,129.5 L1908,141.10000000000002 Q1908,143.10000000000002 1906,143.10000000000002 L1855,143.10000000000002 Z" fill="#5f5aa8"/><text x="1861" y="139.20000000000002" fill="#fff" font-size="11" textLength="41.6">159.6105</text>
<path d="M1846.4,790.6 L1853.5,783.2 L1882,783.2 Q1884,783.2 1884,785.2 L1884,796 Q1884,798 1882,798 L1853.5,798 Z" fill="#000"/>
<text x="1859.5" y="794.6" fill="#fff" font-size="11">57.2</text>
<line x1="0" y1="38.5" x2="1912" y2="38.5" stroke="#666" stroke-width="1"/>
<line x1="398.4" y1="29" x2="398.4" y2="38" stroke="#ccc"/><line x1="433.9" y1="29" x2="433.9" y2="38" stroke="#ccc"/>
<rect x="1907" y="6.2" width="2" height="27.5" fill="#d8d8d8"/>
<text x="6.5" y="22.8" font-size="12.5" font-weight="bold" fill="#333" textLength="30.3">Daily</text>
<path d="M42.7,16.3 L52.7,16.3 L47.7,21.9 Z" fill="#555"/>
<text x="73" y="22.8" font-size="12.5" font-weight="bold" fill="#333" textLength="57.7">Technical</text>
<path d="M137.6,16.3 L147.6,16.3 L142.6,21.9 Z" fill="#555"/>
<text x="167.5" y="22.8" font-size="12.5" font-weight="bold" fill="#333" textLength="44.7">Display</text>
<path d="M218.4,16.3 L228.4,16.3 L223.4,21.9 Z" fill="#555"/>
<text x="248.6" y="22.8" font-size="12.5" font-weight="bold" fill="#333" textLength="31.2">More</text>
<path d="M285.7,16.3 L295.7,16.3 L290.7,21.9 Z" fill="#555"/>
<path d="M317.5,13 L322,13 L323.5,14.5 L329,14.5 L329,17 L321,17 L318.5,24.5 L317.5,24.5 Z" fill="none" stroke="#333" stroke-width="1.1" stroke-linejoin="round"/>
<path d="M321,17.5 L332,17.5 L329.5,24.7 L318.5,24.7 Z" fill="#333"/>
<path d="M352,11.8 L362.5,11.8 L366,15.3 L366,25.2 L352,25.2 Z" fill="#333" stroke="#333" stroke-width="1" stroke-linejoin="round"/>
<rect x="354.2" y="19" width="9.6" height="4.6" fill="#fff"/><rect x="355" y="12.8" width="6.5" height="3.8" fill="#fff"/><rect x="359.6" y="13.2" width="1.3" height="2.6" fill="#333"/>
<rect x="384" y="15.4" width="15" height="4" fill="#111"/>
<rect x="420" y="15.5" width="15" height="4" fill="#111"/><rect x="425.5" y="10" width="4" height="15" fill="#111"/>
<text x="10.2" y="67" font-size="10.5" font-weight="bold" fill="#333" textLength="80.8">SPOT, USD/JPY</text>
</svg>
</body></html>
